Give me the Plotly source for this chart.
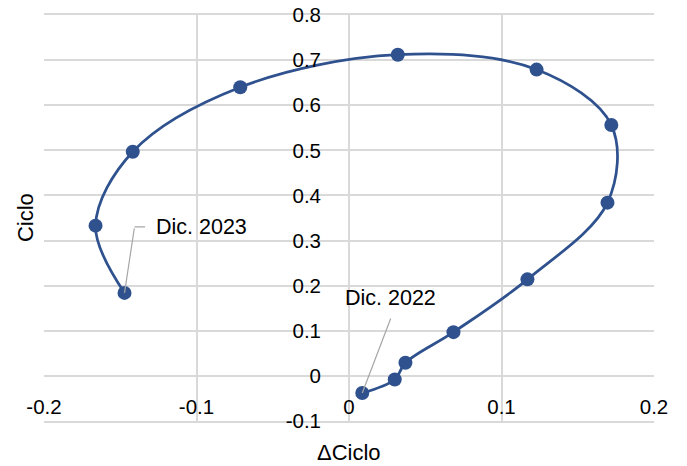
import plotly.graph_objects as go

# Data
delta_ciclo = [0.0087, 0.030, 0.037, 0.0685, 0.117, 0.1695, 0.172, 0.123, 0.032, -0.0713, -0.1418, -0.1662, -0.1472]
ciclo = [-0.038, -0.008, 0.029, 0.097, 0.214, 0.384, 0.556, 0.679, 0.712, 0.640, 0.497, 0.333, 0.184]

x_tick_vals = [-0.2, -0.1, 0, 0.1, 0.2]
x_tick_text = ["-0.2", "-0.1", "0", "0.1", "0.2"]
y_tick_vals = [-0.1, 0, 0.1, 0.2, 0.3, 0.4, 0.5, 0.6, 0.7, 0.8]
y_tick_text = ["-0.1", "0", "0.1", "0.2", "0.3", "0.4", "0.5", "0.6", "0.7", "0.8"]

label_start = "Dic. 2022"
label_end = "Dic. 2023"

LINE_COLOR = "#2F528F"
GRID = "#D9D9D9"
LEADER = "#A6A6A6"
FONT = "Liberation Sans, Arial, sans-serif"

fig = go.Figure()
fig.add_trace(go.Scatter(
    x=delta_ciclo, y=ciclo,
    mode="lines+markers",
    line=dict(color=LINE_COLOR, width=2.75, shape="spline", smoothing=1),
    marker=dict(color=LINE_COLOR, size=14),
    showlegend=False,
    hoverinfo="x+y",
))

annotations = [
    # leader for start label
    dict(x=delta_ciclo[0], y=ciclo[0], xref="x", yref="y", text="", showarrow=True,
         arrowhead=0, arrowwidth=1.2, arrowcolor=LEADER, ax=29, ay=-76),
    dict(x=delta_ciclo[0], y=ciclo[0], xref="x", yref="y", text=label_start, showarrow=False,
         xanchor="left", yanchor="middle", xshift=-19, yshift=95,
         font=dict(family=FONT, size=21.5, color="#000000")),
    # leader for end label
    dict(x=delta_ciclo[-1], y=ciclo[-1], xref="x", yref="y", text="", showarrow=True,
         arrowhead=0, arrowwidth=1.2, arrowcolor=LEADER, ax=10, ay=-66),
    dict(x=delta_ciclo[-1], y=ciclo[-1], xref="x", yref="y", text="", showarrow=True,
         arrowhead=0, arrowwidth=1.2, arrowcolor=LEADER, ax=12, ay=0, xshift=10, yshift=66),
    dict(x=delta_ciclo[-1], y=ciclo[-1], xref="x", yref="y", text=label_end, showarrow=False,
         xanchor="left", yanchor="middle", xshift=29, yshift=66,
         font=dict(family=FONT, size=21.5, color="#000000")),
    # axis titles
    dict(x=-0.031, y=0.5, xref="paper", yref="paper", text="Ciclo", showarrow=False,
         textangle=-90, xanchor="center", yanchor="middle",
         font=dict(family=FONT, size=22, color="#000000")),
    dict(x=0.5, y=-0.077, xref="paper", yref="paper", text="ΔCiclo", showarrow=False,
         xanchor="center", yanchor="middle",
         font=dict(family=FONT, size=22, color="#000000")),
]

fig.update_layout(
    width=687, height=466,
    margin=dict(l=44, r=33, t=15, b=45, autoexpand=False),
    paper_bgcolor="white", plot_bgcolor="white",
    font=dict(family=FONT, size=20, color="#000000"),
    annotations=annotations,
    xaxis=dict(
        range=[-0.2, 0.2], tickvals=x_tick_vals, ticktext=x_tick_text,
        showgrid=True, gridcolor=GRID, gridwidth=1.5, zeroline=False,
        showline=True, linecolor=GRID, linewidth=1.5, mirror=True,
        ticks="", ticklabelstandoff=-33, automargin=False,
        tickfont=dict(family=FONT, size=20.5, color="#000000"),
    ),
    yaxis=dict(
        range=[-0.1, 0.8], tickvals=y_tick_vals, ticktext=y_tick_text,
        showgrid=True, gridcolor=GRID, gridwidth=1.5, zeroline=False,
        showline=False, anchor="free", position=0.5,
        ticks="", ticklabelstandoff=28, automargin=False,
        tickfont=dict(family=FONT, size=20.5, color="#000000"),
    ),
)

# Remove the default page margin so the figure sits at the window's top-left corner.
fig.write_html(
    "out.html",
    config={"displayModeBar": False},
    post_script="document.body.style.margin='0';",
)
